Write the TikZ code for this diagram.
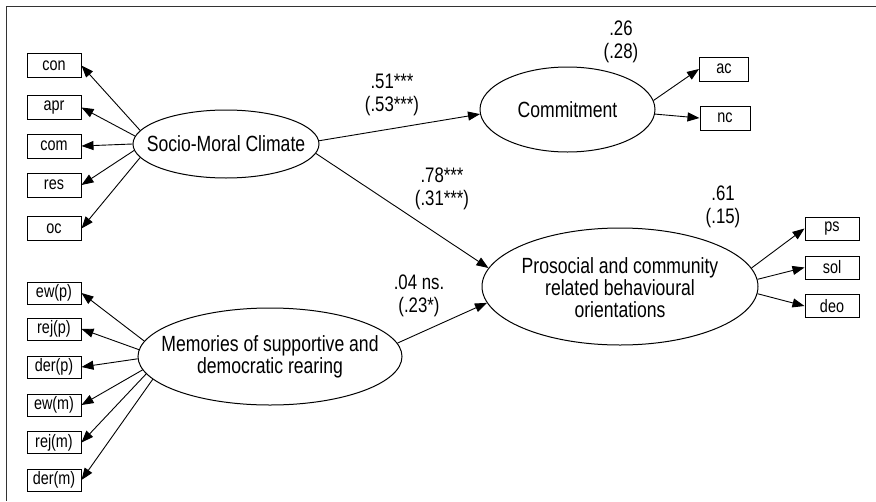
\documentclass[tikz,border=0pt]{standalone}
\usepackage{fontspec}
\setmainfont{Liberation Sans}[FakeStretch=0.8]
\usetikzlibrary{shapes.geometric,arrows.meta}
\begin{document}
\begin{tikzpicture}[x=1pt,y=-1pt,
  ind/.style={draw,line width=1pt,inner sep=0pt,minimum width=54pt,minimum height=24pt,font=\fontsize{18}{20}\selectfont},
  indb/.style={ind,minimum height=22pt},
  lat/.style={draw,ellipse,line width=1pt,inner sep=0pt},
  lattext/.style={align=center,font=\fontsize{22}{22}\selectfont},
  coef/.style={align=center,font=\fontsize{21}{23}\selectfont},
  arr/.style={line width=0.9pt,-{Triangle[length=12pt,width=9pt]}}]
\useasboundingbox (0,0) rectangle (876,501);
\draw[line width=1.5pt,color=black!80] (876,6.5) -- (6.5,6.5) -- (6.5,501);

% latent variables
\node[lat,minimum width=186pt,minimum height=68pt] (smc) at (226,144) {};
\node[lattext] (smct) at (226,144) {Socio-Moral Climate};
\node[lat,minimum width=264pt,minimum height=97pt] (mem) at (270,356.5) {};
\node[lattext] (memt) at (270,357) {Memories of supportive and\\democratic rearing};
\node[lat,minimum width=175pt,minimum height=85pt] (cmt) at (567.5,109.5) {};
\node[lattext] (cmtt) at (567.5,109.5) {Commitment};
\node[lat,minimum width=276pt,minimum height=117pt] (pro) at (620,286.5) {};
\node[lattext] (prot) at (620,288) {Prosocial and community\\related behavioural\\orientations};

% indicators
\node[ind] (con) at (54,65.5) {con};
\node[ind] (apr) at (54,107.5) {apr};
\node[ind] (com) at (54,146) {com};
\node[ind] (res) at (54,185) {res};
\node[ind] (oc) at (54,228.5) {oc};

\node[indb] (ewp) at (54,293) {ew(p)};
\node[indb] (rejp) at (54,329) {rej(p)};
\node[indb] (derp) at (54,367) {der(p)};
\node[indb] (ewm) at (54,405) {ew(m)};
\node[indb] (rejm) at (54,442.5) {rej(m)};
\node[indb] (derm) at (54,480) {der(m)};

\node[ind,minimum width=49pt] (ac) at (724,69) {ac};
\node[ind,minimum width=50pt] (nc) at (725,118) {nc};

\node[ind,minimum height=23pt] (ps) at (832,228.5) {ps};
\node[ind,minimum height=23pt] (sol) at (832,267.5) {sol};
\node[ind,minimum height=23pt] (deo) at (832,306) {deo};

% loadings
\draw[arr] (smc.171) -- (con.east);
\draw[arr] (smc.175.5) -- (apr.east);
\draw[arr] (smc.180) -- (com.east);
\draw[arr] (smc.184.5) -- (res.east);
\draw[arr] (smc.189) -- (oc.east);

\draw[arr] (mem.173.5) -- (ewp.east);
\draw[arr] (mem.177) -- (rejp.east);
\draw[arr] (mem.181) -- (derp.east);
\draw[arr] (mem.186) -- (ewm.east);
\draw[arr] (mem.188.5) -- (rejm.east);
\draw[arr] (mem.191.5) -- (derm.east);

\draw[arr] (cmt.6.3) -- (ac.west);
\draw[arr] (cmt.357) -- (nc.west);

\draw[arr] (pro.8.3) -- (ps.west);
\draw[arr] (pro.3.5) -- (sol.west);
\draw[arr] (pro.357) -- (deo.west);

% structural paths
\draw[arr] (smc.2) -- (cmt.183.6);
\draw[arr] (smc.354) -- (pro.172);
\draw[arr] (mem.6) -- (pro.187);

% coefficients
\node[coef] (c1) at (392,95) {.51***\\(.53***)};
\node[coef] (c2) at (621,42) {.26\\(.28)};
\node[coef] (c3) at (442,189) {.78***\\(.31***)};
\node[coef] (c4) at (723,207) {.61\\(.15)};
\node[coef] (c5) at (419,296) {.04 ns.\\(.23*)};
\end{tikzpicture}
\end{document}
